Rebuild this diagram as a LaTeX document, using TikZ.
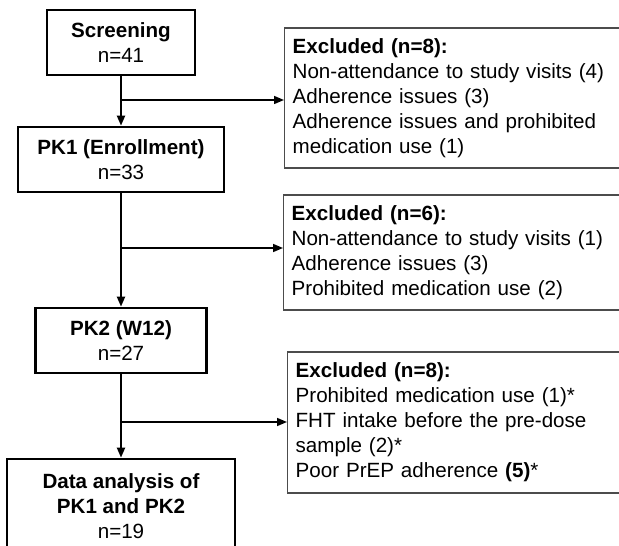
\documentclass[tikz,border=0pt]{standalone}
\usepackage{fontspec}
\setmainfont{Liberation Sans}
\usetikzlibrary{positioning,arrows.meta}

\begin{document}
\begin{tikzpicture}[x=1pt,y=1pt,on grid,>={Triangle[length=10pt,width=8pt]},
		font=\fontsize{20.6}{25}\selectfont,
		stage/.style={draw,line width=2.7pt,align=center,inner sep=0pt,minimum height=65pt},
		excl/.style={draw=black!70,line width=1.3pt,align=left,anchor=west,inner sep=8pt,text width=345pt},
		vline/.style={line width=2pt},
		hline/.style={line width=1.5pt}]
		\useasboundingbox (0,0) rectangle (619,546);
		\clip (0,0) rectangle (619,546);

		% left column
		\node[stage,minimum width=148pt](screen) at (121,503.5){\textbf{Screening}\\n=41};
		\node[stage,minimum width=206pt](pk1)[below=117pt of screen]{\textbf{PK1 (Enrollment)}\\n=33};
		\node[stage,minimum width=171pt](pk2)[below=181pt of pk1]{\textbf{PK2 (W12)}\\n=27};
		\node[stage,minimum width=228pt,minimum height=95pt](data)[below=166pt of pk2]{\textbf{Data analysis of}\\\textbf{PK1 and PK2}\\n=19};

		% exclusions
		\node[excl,minimum height=140pt](ex1) at (284,448){\textbf{Excluded (n=8):}\\Non-attendance to study visits (4)\\Adherence issues (3)\\Adherence issues and prohibited\\medication use (1)};
		\node[excl,minimum height=115pt](ex2) at (283,293.5){\textbf{Excluded (n=6):}\\Non-attendance to study visits (1)\\Adherence issues (3)\\Prohibited medication use (2)};
		\node[excl,minimum height=141pt](ex3) at (287,123.5){\textbf{Excluded (n=8):}\\Prohibited medication use (1)*\\FHT intake before the pre-dose\\sample (2)*\\Poor PrEP adherence \textbf{(5)}*};

		\coordinate (b1) at (121,446);
		\coordinate (b2) at (121,298);
		\coordinate (b3) at (121,124);

		\draw[vline,->] (screen.south) -- (pk1.north);
		\draw[vline,->] (pk1.south) -- (pk2.north);
		\draw[vline,->] (pk2.south) -- (data.north);

		\draw[hline,->] (b1) -- (b1 -| ex1.west);
		\draw[hline,->] (b2) -- (b2 -| ex2.west);
		\draw[hline,->] (b3) -- (b3 -| ex3.west);
	\end{tikzpicture}
\end{document}
